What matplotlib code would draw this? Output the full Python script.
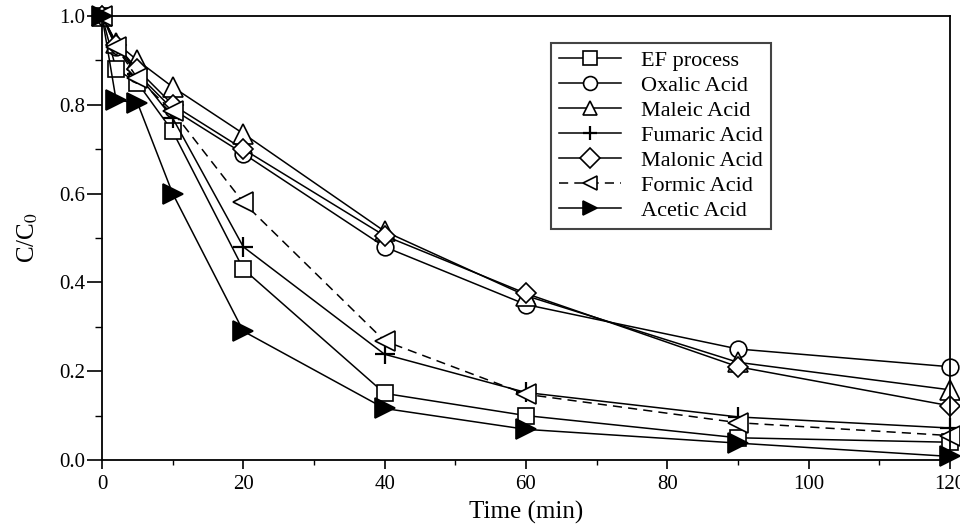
import numpy as np
import matplotlib
matplotlib.use("Agg")
import matplotlib.pyplot as plt
from matplotlib.ticker import MultipleLocator

plt.rcParams['font.family'] = ['Liberation Serif', 'DejaVu Serif']
plt.rcParams['mathtext.fontset'] = 'stix'

# sampling times (min)
time = [0, 2, 5, 10, 20, 40, 60, 90, 120]

# normalised concentration C/C0 for each run
ef_process = [1.0, 0.88, 0.85, 0.74, 0.43, 0.15, 0.10, 0.05, 0.04]
oxalic = [1.0, 0.93, 0.87, 0.79, 0.69, 0.48, 0.35, 0.25, 0.21]
maleic = [1.0, 0.94, 0.90, 0.84, 0.735, 0.515, 0.37, 0.22, 0.158]
fumaric = [1.0, 0.94, 0.87, 0.77, 0.48, 0.238, 0.152, 0.097, 0.072]
malonic = [1.0, 0.935, 0.88, 0.80, 0.70, 0.505, 0.375, 0.21, 0.122]
formic = [1.0, 0.93, 0.86, 0.785, 0.58, 0.268, 0.148, 0.084, 0.055]
acetic = [1.0, 0.81, 0.805, 0.60, 0.29, 0.116, 0.069, 0.038, 0.008]

labels = ['EF process', 'Oxalic Acid', 'Maleic Acid', 'Fumaric Acid',
          'Malonic Acid', 'Formic Acid', 'Acetic Acid']
series = [ef_process, oxalic, maleic, fumaric, malonic, formic, acetic]
markers = ['s', 'o', '^', '+', 'D', '<', '>']
sizes = [11, 12, 14, 14, 10, 14, 14]
faces = ['white'] * 6 + ['black']
styles = ['-'] * 5 + ['--', '-']

fig = plt.figure(figsize=(9.6, 5.28), dpi=100)
ax = fig.add_axes([0.10625, 0.1288, 0.8833, 0.841])

for y, lab, m, s, fc, ls in zip(series, labels, markers, sizes, faces, styles):
    ax.plot(time, y, linestyle=ls, color='black', lw=1.1, marker=m,
            markersize=s, markerfacecolor=fc,
            markeredgecolor='black', markeredgewidth=1.2 if m != '+' else 1.6,
            label=lab, clip_on=False, dashes=(6, 4) if ls == '--' else (None, None))

ax.set_xlim(0, 120)
ax.set_ylim(0, 1.0)
ax.xaxis.set_major_locator(MultipleLocator(20))
ax.xaxis.set_minor_locator(MultipleLocator(10))
ax.yaxis.set_major_locator(MultipleLocator(0.2))
ax.yaxis.set_minor_locator(MultipleLocator(0.1))
ax.set_yticks([0, 0.2, 0.4, 0.6, 0.8, 1.0])
ax.set_yticklabels(['0.0', '0.2', '0.4', '0.6', '0.8', '1.0'])
ax.tick_params(axis='x', which='major', direction='out', length=6.5, width=1.2,
               labelsize=15, pad=4)
ax.tick_params(axis='x', which='minor', direction='out', length=3.5, width=1.0)
ax.tick_params(axis='y', which='major', direction='out', length=11, width=1.2,
               labelsize=15, pad=1)
ax.tick_params(axis='y', which='minor', direction='out', length=5, width=1.0)

for sp in ax.spines.values():
    sp.set_linewidth(1.3)

ax.set_xlabel('Time (min)', fontsize=18, labelpad=5)
ax.set_ylabel('C/C$_0$', fontsize=18, labelpad=14)

leg = ax.legend(loc='upper left', bbox_to_anchor=(0.5295, 0.9392), fontsize=16,
                handlelength=2.8, labelspacing=0.2, fancybox=False,
                edgecolor='#444444', framealpha=1, borderpad=0.35,
                handletextpad=0.9, borderaxespad=0)
leg.get_frame().set_linewidth(1.5)
for h in leg.get_lines():
    h.set_markersize(10)

fig.savefig('out.png', dpi=100)
